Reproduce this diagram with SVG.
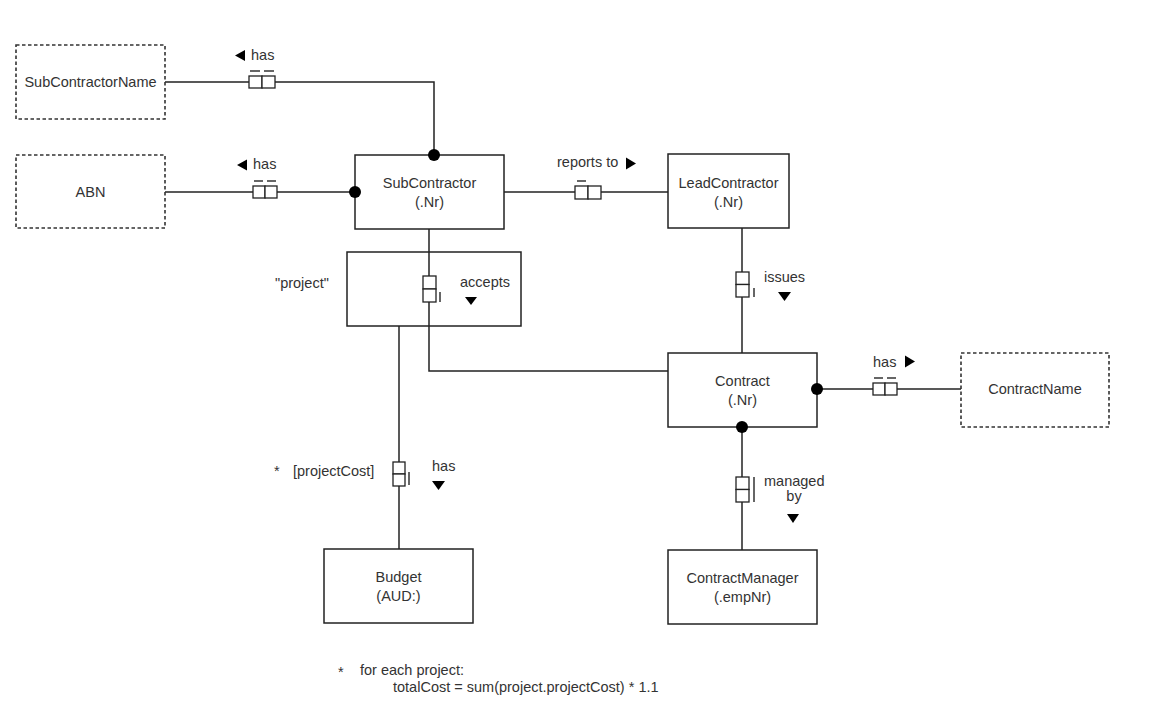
<svg xmlns="http://www.w3.org/2000/svg" width="1161" height="720" viewBox="0 0 1161 720">
<style>
text{font-family:"Liberation Sans",Arial,sans-serif;font-size:14.5px;fill:#333}
.c{text-anchor:middle}
.ent{fill:#fff;stroke:#222;stroke-width:1.5}
.val{fill:#fff;stroke:#333;stroke-width:1.6;stroke-dasharray:3.5 2.5}
.ln{fill:none;stroke:#222;stroke-width:1.5}
.role{fill:#fff;stroke:#222;stroke-width:1.3}
.u{stroke:#333;stroke-width:1.5}
.dot{fill:#000}
.tri{fill:#000}
</style>
<rect width="1161" height="720" fill="#fff"/>
<g id="connectors">
<polyline class="ln" points="165,82 434,82 434,155"/>
<line class="ln" x1="165" y1="192" x2="355" y2="192"/>
<line class="ln" x1="504" y1="192" x2="668" y2="192"/>
<polyline class="ln" points="429,229 429,371 668,371"/>
<line class="ln" x1="399" y1="326" x2="399" y2="549"/>
<line class="ln" x1="742" y1="228" x2="742" y2="353"/>
<line class="ln" x1="817" y1="389" x2="961" y2="389"/>
<line class="ln" x1="742" y1="427" x2="742" y2="550"/>
</g>
<g id="node-objectified">
<rect class="ent" x="347" y="252" width="174" height="74" fill="none" style="fill:none"/>
<text x="275" y="288">"project"</text>
</g>
<g id="node-SubContractorName">
<rect class="val" x="16" y="45" width="149" height="74"/>
<text class="c" x="90.5" y="87">SubContractorName</text>
</g>
<g id="node-ABN">
<rect class="val" x="16" y="155" width="149" height="73"/>
<text class="c" x="90.5" y="197">ABN</text>
</g>
<g id="node-SubContractor">
<rect class="ent" x="355" y="155" width="149" height="74"/>
<text class="c" x="429.5" y="188">SubContractor</text>
<text class="c" x="429.5" y="207">(.Nr)</text>
</g>
<g id="node-LeadContractor">
<rect class="ent" x="668" y="154" width="121" height="74"/>
<text class="c" x="728.5" y="188">LeadContractor</text>
<text class="c" x="728.5" y="207">(.Nr)</text>
</g>
<g id="node-Contract">
<rect class="ent" x="668" y="353" width="149" height="74"/>
<text class="c" x="742.5" y="386">Contract</text>
<text class="c" x="742.5" y="405">(.Nr)</text>
</g>
<g id="node-ContractName">
<rect class="val" x="961" y="353" width="148" height="74"/>
<text class="c" x="1035" y="394">ContractName</text>
</g>
<g id="node-Budget">
<rect class="ent" x="324" y="549" width="149" height="74"/>
<text class="c" x="398.5" y="582">Budget</text>
<text class="c" x="398.5" y="601">(AUD:)</text>
</g>
<g id="node-ContractManager">
<rect class="ent" x="668" y="550" width="149" height="74"/>
<text class="c" x="742.5" y="583">ContractManager</text>
<text class="c" x="742.5" y="602">(.empNr)</text>
</g>
<g id="fact-has-name">
<rect class="role" x="249" y="76" width="13" height="12"/>
<rect class="role" x="262" y="76" width="13" height="12"/>
<line class="u" x1="250" y1="71" x2="260" y2="71"/>
<line class="u" x1="264" y1="71" x2="274" y2="71"/>
<polygon class="tri" points="235,55.5 245,50 245,61"/>
<text x="251" y="60">has</text>
</g>
<g id="fact-has-abn">
<rect class="role" x="253" y="186" width="12" height="12"/>
<rect class="role" x="265" y="186" width="12" height="12"/>
<line class="u" x1="254" y1="181" x2="263" y2="181"/>
<line class="u" x1="267" y1="181" x2="276" y2="181"/>
<polygon class="tri" points="237,165 247,159.5 247,170.5"/>
<text x="253" y="169">has</text>
</g>
<g id="fact-reports">
<rect class="role" x="575" y="186" width="13" height="13"/>
<rect class="role" x="588" y="186" width="13" height="13"/>
<line class="u" x1="577" y1="181" x2="586" y2="181"/>
<text x="557" y="167">reports to</text>
<polygon class="tri" points="626,157.5 636,163.5 626,169.5"/>
</g>
<g id="fact-accepts">
<rect class="role" x="423" y="276" width="13" height="13"/>
<rect class="role" x="423" y="289" width="13" height="13"/>
<line class="u" x1="440" y1="292" x2="440" y2="302"/>
<text x="460" y="287">accepts</text>
<polygon class="tri" points="465,297 477,297 471,305"/>
</g>
<g id="fact-issues">
<rect class="role" x="736" y="272" width="13" height="12.5"/>
<rect class="role" x="736" y="284.5" width="13" height="12.5"/>
<line class="u" x1="754" y1="288" x2="754" y2="297"/>
<text x="764" y="282">issues</text>
<polygon class="tri" points="778,292 791,292 784.5,301"/>
</g>
<g id="fact-has-contractname">
<rect class="role" x="873" y="383" width="12" height="12"/>
<rect class="role" x="885" y="383" width="12" height="12"/>
<line class="u" x1="874" y1="378" x2="883" y2="378"/>
<line class="u" x1="887" y1="378" x2="896" y2="378"/>
<text x="873" y="367">has</text>
<polygon class="tri" points="905,355.5 915,361.5 905,367.5"/>
</g>
<g id="fact-managed">
<rect class="role" x="736" y="477" width="13" height="12.5"/>
<rect class="role" x="736" y="489.5" width="13" height="12.5"/>
<line class="u" x1="754" y1="477" x2="754" y2="502"/>
<text x="764" y="486">managed</text>
<text class="c" x="794" y="501">by</text>
<polygon class="tri" points="787,514 799,514 793,523"/>
</g>
<g id="fact-has-budget">
<rect class="role" x="393" y="462" width="12" height="12"/>
<rect class="role" x="393" y="474" width="12" height="12"/>
<line class="u" x1="409" y1="472" x2="409" y2="485"/>
<text x="274" y="476">*</text>
<text x="293" y="476">[projectCost]</text>
<text x="432" y="471">has</text>
<polygon class="tri" points="432,481 445,481 438.5,490"/>
</g>
<g id="dots">
<circle class="dot" cx="434" cy="155" r="6"/>
<circle class="dot" cx="355" cy="192" r="6"/>
<circle class="dot" cx="817" cy="389" r="6"/>
<circle class="dot" cx="742" cy="427" r="6"/>
</g>
<g id="note">
<text x="338" y="677">*</text>
<text x="360" y="675">for each project:</text>
<text x="393" y="692">totalCost = sum(project.projectCost) * 1.1</text>
</g>
</svg>
